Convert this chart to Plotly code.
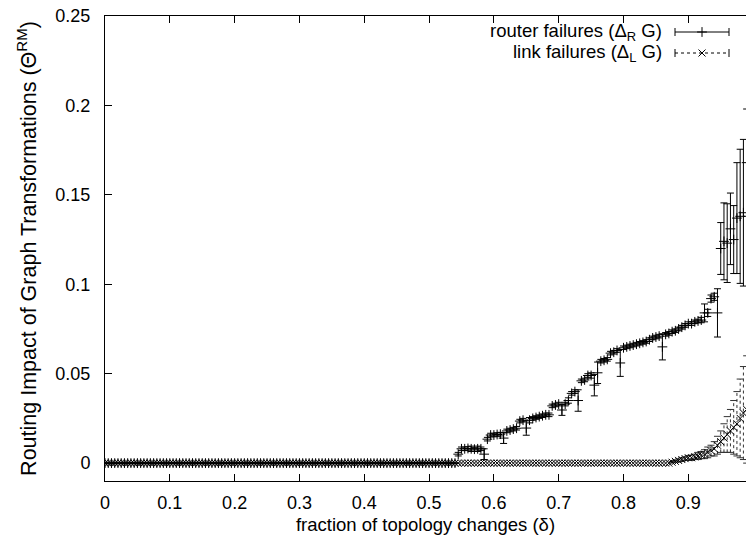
import plotly.graph_objects as go

# ---------------- data ----------------
delta = [round(0.005 * i, 3) for i in range(199)]  # 0 .. 0.99

router_rise = [0.005, 0.008, 0.008, 0.0082, 0.008, 0.0078, 0.008, 0.008, 0.005, 0.0134,
               0.0157, 0.0157, 0.016, 0.0162, 0.014, 0.018, 0.0185, 0.019, 0.0195, 0.0235,
               0.024, 0.0196, 0.024, 0.025, 0.0255, 0.026, 0.0265, 0.027, 0.027, 0.032,
               0.0325, 0.033, 0.0297, 0.033, 0.035, 0.039, 0.040, 0.035, 0.046, 0.0465,
               0.049, 0.049, 0.0436, 0.0505, 0.057, 0.0575, 0.058, 0.0615, 0.062, 0.063,
               0.056, 0.0645, 0.065, 0.0655, 0.066, 0.0665, 0.067, 0.0675, 0.068, 0.069,
               0.070, 0.0705, 0.071, 0.065, 0.072, 0.0725, 0.0735, 0.074, 0.075, 0.076,
               0.077, 0.078, 0.078, 0.079, 0.0795, 0.080, 0.084, 0.084, 0.092, 0.093,
               0.084, 0.120, 0.124, 0.123, 0.131, 0.125, 0.137, 0.138, 0.140, 0.168]
router_rise_err = [0.001, 0.001, 0.001, 0.001, 0.0015, 0.001, 0.0015, 0.001, 0.003, 0.001,
                   0.001, 0.001, 0.001, 0.001, 0.003, 0.001, 0.001, 0.001, 0.001, 0.001,
                   0.001, 0.004, 0.0015, 0.001, 0.001, 0.001, 0.001, 0.001, 0.001, 0.001,
                   0.001, 0.001, 0.003, 0.001, 0.0015, 0.001, 0.001, 0.006, 0.001, 0.001,
                   0.001, 0.0015, 0.006, 0.006, 0.001, 0.001, 0.001, 0.001, 0.001, 0.001,
                   0.0075, 0.001, 0.001, 0.001, 0.001, 0.001, 0.001, 0.001, 0.001, 0.001,
                   0.001, 0.001, 0.001, 0.0073, 0.001, 0.001, 0.001, 0.001, 0.001, 0.001,
                   0.001, 0.001, 0.001, 0.001, 0.001, 0.0015, 0.005, 0.002, 0.002, 0.002,
                   0.0135, 0.0145, 0.0215, 0.022, 0.02, 0.019, 0.031, 0.0375, 0.041, 0.03]

link_rise = [0.0005, 0.001, 0.0015, 0.002, 0.0025, 0.003, 0.003, 0.0035, 0.004, 0.0045,
             0.005, 0.006, 0.007, 0.008, 0.010, 0.012, 0.014, 0.016, 0.018, 0.020,
             0.022, 0.025, 0.028, 0.030]
link_rise_err = [0.0003, 0.0005, 0.0008, 0.001, 0.001, 0.0012, 0.0015, 0.0015, 0.002, 0.002,
                 0.0025, 0.003, 0.003, 0.004, 0.005, 0.006, 0.008, 0.010, 0.012, 0.015,
                 0.018, 0.022, 0.026, 0.030]

router_y = [0.0] * (len(delta) - len(router_rise)) + router_rise
router_err = [0.0] * (len(delta) - len(router_rise_err)) + router_rise_err
link_y = [0.0] * (len(delta) - len(link_rise)) + link_rise
link_err = [0.0] * (len(delta) - len(link_rise_err)) + link_rise_err

x_ticks = [0, 0.1, 0.2, 0.3, 0.4, 0.5, 0.6, 0.7, 0.8, 0.9]
x_tick_text = ["0", "0.1", "0.2", "0.3", "0.4", "0.5", "0.6", "0.7", "0.8", "0.9"]
y_ticks = [0, 0.05, 0.1, 0.15, 0.2, 0.25]
y_tick_text = ["0", "0.05", "0.1", "0.15", "0.2", "0.25"]

legend_names = ["router failures (\u0394<sub>R</sub> G)", "link failures (\u0394<sub>L</sub> G)"]

FONT = "Liberation Sans, Arial, Helvetica, sans-serif"
FS = 18

fig = go.Figure()

# router failures: solid error bars, '+' markers
fig.add_trace(go.Scatter(
    x=delta, y=router_y, mode="markers", name=legend_names[0], showlegend=False,
    marker=dict(symbol="cross-thin-open", size=7, color="black",
                line=dict(color="black", width=1)),
    error_y=dict(type="data", array=router_err, visible=True, color="black",
                 thickness=1, width=3.5),
))

# link failures: dashed error bars, 'x' markers
seg_x, seg_y, cap_x, cap_y = [], [], [], []
for xv, yv, ev in zip(delta, link_y, link_err):
    if ev > 0:
        seg_x += [xv, xv, None]
        seg_y += [yv - ev, yv + ev, None]
        cap_x += [xv, xv]
        cap_y += [yv - ev, yv + ev]
fig.add_trace(go.Scatter(x=seg_x, y=seg_y, mode="lines", showlegend=False,
                         line=dict(color="#333333", width=1, dash="3px,3px"), hoverinfo="skip"))
fig.add_trace(go.Scatter(x=cap_x, y=cap_y, mode="markers", showlegend=False,
                         marker=dict(symbol="line-ew-open", size=5, color="#333333",
                                     line=dict(color="#333333", width=1)), hoverinfo="skip"))
fig.add_trace(go.Scatter(
    x=delta, y=link_y, mode="markers", name=legend_names[1], showlegend=False,
    marker=dict(symbol="x-thin-open", size=7, color="black",
                line=dict(color="black", width=1)),
))

# ---------------- manual gnuplot-style key ----------------
W, H = 746, 542
ML, MR, MT, MB = 105, 0, 16, 61
pw, ph = W - ML - MR, H - MT - MB


def px2paper(px, py):
    return (px - ML) / pw, (H - MB - py) / ph


key_rows = [32, 53]
sample_l, sample_r, text_r = 675, 729, 664
for i, (name, py) in enumerate(zip(legend_names, key_rows)):
    tx, ty = px2paper(text_r, py)
    fig.add_annotation(x=tx, y=ty, xref="paper", yref="paper", text=name,
                       showarrow=False, xanchor="right", yanchor="middle",
                       font=dict(family=FONT, size=18.5, color="black"))
    x0, y0 = px2paper(sample_l, py)
    x1, _ = px2paper(sample_r, py)
    dash = "solid" if i == 0 else "3px,3px"
    fig.add_shape(type="line", xref="paper", yref="paper", x0=x0, x1=x1, y0=y0, y1=y0,
                  line=dict(color="black", width=1, dash=dash))
    for xc in (x0, x1):
        fig.add_shape(type="line", xref="paper", yref="paper", x0=xc, x1=xc,
                      y0=y0 - 4 / ph, y1=y0 + 4 / ph, line=dict(color="black", width=1))

mx0, my0 = px2paper((sample_l + sample_r) / 2, key_rows[0])
mx1, my1 = px2paper((sample_l + sample_r) / 2, key_rows[1])
fig.add_trace(go.Scatter(x=[mx0], y=[my0], xaxis="x2", yaxis="y2", mode="markers",
                         showlegend=False, hoverinfo="skip",
                         marker=dict(symbol="cross-thin-open", size=7, color="black",
                                     line=dict(color="black", width=1))))
fig.add_trace(go.Scatter(x=[mx1], y=[my1], xaxis="x2", yaxis="y2", mode="markers",
                         showlegend=False, hoverinfo="skip",
                         marker=dict(symbol="x-thin-open", size=7, color="black",
                                     line=dict(color="black", width=1))))

fig.update_layout(
    width=W, height=H,
    margin=dict(l=ML, r=MR, t=MT, b=MB),
    paper_bgcolor="white", plot_bgcolor="white",
    font=dict(family=FONT, size=FS, color="black"),
    showlegend=False,
    xaxis=dict(range=[0, 0.989], tickmode="array", tickvals=x_ticks, ticktext=x_tick_text,
               ticks="inside", ticklen=7, tickcolor="black", tickwidth=1,
               showline=True, linecolor="black", linewidth=1, mirror="ticks",
               showgrid=False, zeroline=False, ticklabelstandoff=5,
               title=dict(text="fraction of topology changes (\u03b4)", standoff=6,
                          font=dict(family=FONT, size=18.5))),
    yaxis=dict(range=[-0.01, 0.25], tickmode="array", tickvals=y_ticks, ticktext=y_tick_text,
               ticks="inside", ticklen=7, tickcolor="black", tickwidth=1,
               showline=True, linecolor="black", linewidth=1, mirror=False,
               showgrid=False, zeroline=False, ticklabelstandoff=10,
               title=dict(text="Routing Impact of Graph Transformations (\u0398<sup>RM</sup>)",
                          standoff=12, font=dict(family=FONT, size=21.5))),
    xaxis2=dict(range=[0, 1], overlaying="x", visible=False, fixedrange=True),
    yaxis2=dict(range=[0, 1], overlaying="y", visible=False, fixedrange=True),
)

fig.write_html("out.html", post_script="document.body.style.margin='0';",
               config={"displayModeBar": False})
